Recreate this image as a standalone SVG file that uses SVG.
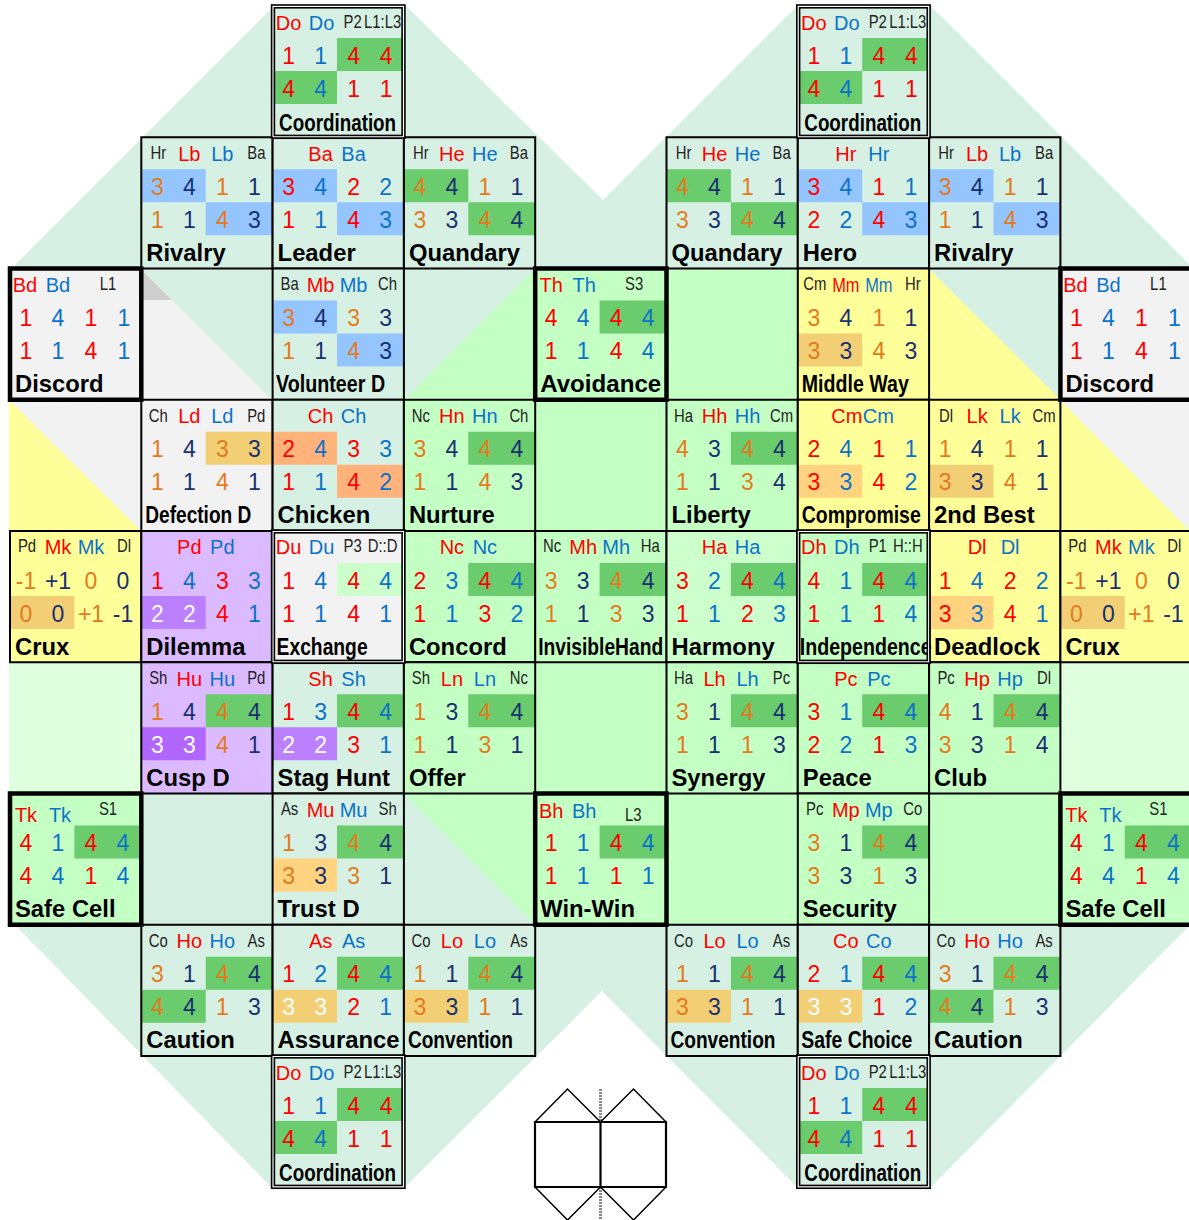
<svg xmlns="http://www.w3.org/2000/svg" width="1189" height="1220" viewBox="0 0 1189 1220">
<style>
text{font-family:"Liberation Sans",Arial,sans-serif}
.r,.u,.o,.n,.w{font-size:23px;text-anchor:middle}
.r,.lr{fill:#f00}.u,.lu{fill:#0b72c9}.o{fill:#e47a1b}.n{fill:#17306f}.w{fill:#fff}
.lr,.lu{font-size:20px;text-anchor:middle}
.cz{transform-box:fill-box;transform-origin:center;transform:scaleX(.82)}
.s{font-size:17.5px;fill:#222;text-anchor:middle;transform-box:fill-box;transform-origin:center;transform:scaleX(.85)}
.t{font-size:23.8px;font-weight:bold;fill:#000}
.c{width:131.3px;height:131.25px;stroke:none}
.b{width:131.3px;height:131.25px;fill:none;stroke:#000;stroke-width:2}
.k{width:131.3px;height:131.25px;fill:none;stroke:#000;stroke-width:4.5}
.d1{fill:none;stroke:#000;stroke-width:1.6}
.d2{fill:none;stroke:#fff;stroke-width:1.4}
.h{width:66.9px;height:33px}
.h[x="0"]{width:64.4px}
.mi{fill:#d6f1e3}.gy{fill:#f2f2f2}.gn{fill:#c4ffc4}.lg{fill:#ccffcc}.ye{fill:#ffff99}.pu{fill:#dcbaff}
.hg{fill:#6bcc6e}.hb{fill:#94c5ff}.ho{fill:#f2cf75}.hf{fill:#ffd37f}.hc{fill:#ffb27a}.hp{fill:#bb80ff}.hq{fill:#b066ff}
.ln{fill:none;stroke:#000}
</style>
<g id="background">
<polygon class="mi" points="15,265 271,9 405,5 603,200 798,5 930,5 1190,265 1190,925 930,1188 798,1188 602,991 404,1188 272,1188 15,925"/>
<polygon class="gy" points="141,269 272,400 141,400"/>
<polygon fill="#cfcfcf" points="141,269 172,300 141,300"/>
<polygon class="gy" points="9,400 141,400 141,531"/>
<polygon class="ye" points="9,400 141,531 9,531"/>
<polygon class="gn" points="404,400 535,269 535,400"/>
<rect class="gn" x="535" y="269" width="263" height="131"/>
<rect class="gn" x="404" y="400" width="394" height="394"/>
<polygon class="gn" points="404,794 535,794 535,925"/>
<rect class="gn" x="535" y="794" width="526" height="131"/>
<polygon class="ye" points="929,269 1061,400 929,400"/>
<polygon class="gy" points="1060,400 1189,400 1189,531"/>
<polygon class="ye" points="1060,400 1189,530 1060,531"/>
<rect fill="#dfffdf" x="9" y="662" width="132" height="132"/>
<rect fill="#dfffdf" x="1060" y="662" width="129" height="132"/>
</g>

<g id="rivalry-l" transform="translate(141.3 137.25)"><rect class="c mi"/><rect class="h hb" x="0" y="32"/><rect class="h hb" x="64.4" y="65"/>
<text class="s" x="17" y="22">Hr</text><text class="lr" x="48" y="23.5">Lb</text><text class="lu" x="81" y="23.5">Lb</text><text class="s" x="115" y="22">Ba</text>
<text class="o" x="16" y="57.5">3</text><text class="n" x="48" y="57.5">4</text><text class="o" x="81" y="57.5">1</text><text class="n" x="113" y="57.5">1</text>
<text class="o" x="16" y="90.5">1</text><text class="n" x="48" y="90.5">1</text><text class="o" x="81" y="90.5">4</text><text class="n" x="113" y="90.5">3</text>
<text class="t" x="5" y="123.5">Rivalry</text><rect class="b"/></g>

<g id="leader" transform="translate(272.6 137.25)"><rect class="c mi"/><rect class="h hb" x="0" y="32"/><rect class="h hb" x="64.4" y="65"/>
<text class="lr" x="48" y="23.5">Ba</text><text class="lu" x="81" y="23.5">Ba</text>
<text class="r" x="16" y="57.5">3</text><text class="u" x="48" y="57.5">4</text><text class="r" x="81" y="57.5">2</text><text class="u" x="113" y="57.5">2</text>
<text class="r" x="16" y="90.5">1</text><text class="u" x="48" y="90.5">1</text><text class="r" x="81" y="90.5">4</text><text class="u" x="113" y="90.5">3</text>
<text class="t" x="5" y="123.5">Leader</text><rect class="b"/></g>

<g id="quandary-l" transform="translate(403.9 137.25)"><rect class="c mi"/><rect class="h hg" x="0" y="32"/><rect class="h hg" x="64.4" y="65"/>
<text class="s" x="17" y="22">Hr</text><text class="lr" x="48" y="23.5">He</text><text class="lu" x="81" y="23.5">He</text><text class="s" x="115" y="22">Ba</text>
<text class="o" x="16" y="57.5">4</text><text class="n" x="48" y="57.5">4</text><text class="o" x="81" y="57.5">1</text><text class="n" x="113" y="57.5">1</text>
<text class="o" x="16" y="90.5">3</text><text class="n" x="48" y="90.5">3</text><text class="o" x="81" y="90.5">4</text><text class="n" x="113" y="90.5">4</text>
<text class="t" x="5" y="123.5">Quandary</text><rect class="b"/></g>

<g id="quandary-r" transform="translate(666.5 137.25)"><rect class="c mi"/><rect class="h hg" x="0" y="32"/><rect class="h hg" x="64.4" y="65"/>
<text class="s" x="17" y="22">Hr</text><text class="lr" x="48" y="23.5">He</text><text class="lu" x="81" y="23.5">He</text><text class="s" x="115" y="22">Ba</text>
<text class="o" x="16" y="57.5">4</text><text class="n" x="48" y="57.5">4</text><text class="o" x="81" y="57.5">1</text><text class="n" x="113" y="57.5">1</text>
<text class="o" x="16" y="90.5">3</text><text class="n" x="48" y="90.5">3</text><text class="o" x="81" y="90.5">4</text><text class="n" x="113" y="90.5">4</text>
<text class="t" x="5" y="123.5">Quandary</text><rect class="b"/></g>

<g id="hero" transform="translate(797.8 137.25)"><rect class="c mi"/><rect class="h hb" x="0" y="32"/><rect class="h hb" x="64.4" y="65"/>
<text class="lr" x="48" y="23.5">Hr</text><text class="lu" x="81" y="23.5">Hr</text>
<text class="r" x="16" y="57.5">3</text><text class="u" x="48" y="57.5">4</text><text class="r" x="81" y="57.5">1</text><text class="u" x="113" y="57.5">1</text>
<text class="r" x="16" y="90.5">2</text><text class="u" x="48" y="90.5">2</text><text class="r" x="81" y="90.5">4</text><text class="u" x="113" y="90.5">3</text>
<text class="t" x="5" y="123.5">Hero</text><rect class="b"/></g>

<g id="rivalry-r" transform="translate(929.1 137.25)"><rect class="c mi"/><rect class="h hb" x="0" y="32"/><rect class="h hb" x="64.4" y="65"/>
<text class="s" x="17" y="22">Hr</text><text class="lr" x="48" y="23.5">Lb</text><text class="lu" x="81" y="23.5">Lb</text><text class="s" x="115" y="22">Ba</text>
<text class="o" x="16" y="57.5">3</text><text class="n" x="48" y="57.5">4</text><text class="o" x="81" y="57.5">1</text><text class="n" x="113" y="57.5">1</text>
<text class="o" x="16" y="90.5">1</text><text class="n" x="48" y="90.5">1</text><text class="o" x="81" y="90.5">4</text><text class="n" x="113" y="90.5">3</text>
<text class="t" x="5" y="123.5">Rivalry</text><rect class="b"/></g>

<g id="volunteer-d" transform="translate(272.6 268.5)"><rect class="c mi"/><rect class="h hb" x="0" y="32"/><rect class="h hb" x="64.4" y="65"/>
<text class="s" x="17" y="22">Ba</text><text class="lr" x="48" y="23.5">Mb</text><text class="lu" x="81" y="23.5">Mb</text><text class="s" x="115" y="22">Ch</text>
<text class="o" x="16" y="57.5">3</text><text class="n" x="48" y="57.5">4</text><text class="o" x="81" y="57.5">3</text><text class="n" x="113" y="57.5">3</text>
<text class="o" x="16" y="90.5">1</text><text class="n" x="48" y="90.5">1</text><text class="o" x="81" y="90.5">4</text><text class="n" x="113" y="90.5">3</text>
<text class="t" x="3.5" y="123.5" textLength="109" lengthAdjust="spacingAndGlyphs">Volunteer D</text><rect class="b"/></g>

<g id="middle-way" transform="translate(797.8 268.5)"><rect class="c ye"/><rect class="h ho" x="0" y="65"/>
<text class="s" x="17" y="22">Cm</text><text class="lr cz" x="48" y="23.5">Mm</text><text class="lu cz" x="81" y="23.5">Mm</text><text class="s" x="115" y="22">Hr</text>
<text class="o" x="16" y="57.5">3</text><text class="n" x="48" y="57.5">4</text><text class="o" x="81" y="57.5">1</text><text class="n" x="113" y="57.5">1</text>
<text class="o" x="16" y="90.5">3</text><text class="n" x="48" y="90.5">3</text><text class="o" x="81" y="90.5">4</text><text class="n" x="113" y="90.5">3</text>
<text class="t" x="4" y="123.5" textLength="107" lengthAdjust="spacingAndGlyphs">Middle Way</text><rect class="b"/></g>

<g id="defection-d" transform="translate(141.3 399.75)"><rect class="c gy"/><rect class="h ho" x="64.4" y="32"/>
<text class="s" x="17" y="22">Ch</text><text class="lr" x="48" y="23.5">Ld</text><text class="lu" x="81" y="23.5">Ld</text><text class="s" x="115" y="22">Pd</text>
<text class="o" x="16" y="57.5">1</text><text class="n" x="48" y="57.5">4</text><text class="o" x="81" y="57.5">3</text><text class="n" x="113" y="57.5">3</text>
<text class="o" x="16" y="90.5">1</text><text class="n" x="48" y="90.5">1</text><text class="o" x="81" y="90.5">4</text><text class="n" x="113" y="90.5">1</text>
<text class="t" x="4" y="123.5" textLength="106" lengthAdjust="spacingAndGlyphs">Defection D</text><rect class="b"/></g>

<g id="chicken" transform="translate(272.6 399.75)"><rect class="c mi"/><rect class="h hc" x="0" y="32"/><rect class="h hc" x="64.4" y="65"/>
<text class="lr" x="48" y="23.5">Ch</text><text class="lu" x="81" y="23.5">Ch</text>
<text class="r" x="16" y="57.5">2</text><text class="u" x="48" y="57.5">4</text><text class="r" x="81" y="57.5">3</text><text class="u" x="113" y="57.5">3</text>
<text class="r" x="16" y="90.5">1</text><text class="u" x="48" y="90.5">1</text><text class="r" x="81" y="90.5">4</text><text class="u" x="113" y="90.5">2</text>
<text class="t" x="5" y="123.5">Chicken</text><rect class="b"/></g>

<g id="nurture" transform="translate(403.9 399.75)"><rect class="c gn"/><rect class="h hg" x="64.4" y="32"/>
<text class="s" x="17" y="22">Nc</text><text class="lr" x="48" y="23.5">Hn</text><text class="lu" x="81" y="23.5">Hn</text><text class="s" x="115" y="22">Ch</text>
<text class="o" x="16" y="57.5">3</text><text class="n" x="48" y="57.5">4</text><text class="o" x="81" y="57.5">4</text><text class="n" x="113" y="57.5">4</text>
<text class="o" x="16" y="90.5">1</text><text class="n" x="48" y="90.5">1</text><text class="o" x="81" y="90.5">4</text><text class="n" x="113" y="90.5">3</text>
<text class="t" x="5" y="123.5">Nurture</text><rect class="b"/></g>

<g id="liberty" transform="translate(666.5 399.75)"><rect class="c gn"/><rect class="h hg" x="64.4" y="32"/>
<text class="s" x="17" y="22">Ha</text><text class="lr" x="48" y="23.5">Hh</text><text class="lu" x="81" y="23.5">Hh</text><text class="s" x="115" y="22">Cm</text>
<text class="o" x="16" y="57.5">4</text><text class="n" x="48" y="57.5">3</text><text class="o" x="81" y="57.5">4</text><text class="n" x="113" y="57.5">4</text>
<text class="o" x="16" y="90.5">1</text><text class="n" x="48" y="90.5">1</text><text class="o" x="81" y="90.5">3</text><text class="n" x="113" y="90.5">4</text>
<text class="t" x="5" y="123.5">Liberty</text><rect class="b"/></g>

<g id="compromise" transform="translate(797.8 399.75)"><rect class="c ye"/><rect class="h hf" x="0" y="65"/>
<text class="lr" x="49" y="23.5">Cm</text><text class="lu" x="80.5" y="23.5">Cm</text>
<text class="r" x="16" y="57.5">2</text><text class="u" x="48" y="57.5">4</text><text class="r" x="81" y="57.5">1</text><text class="u" x="113" y="57.5">1</text>
<text class="r" x="16" y="90.5">3</text><text class="u" x="48" y="90.5">3</text><text class="r" x="81" y="90.5">4</text><text class="u" x="113" y="90.5">2</text>
<text class="t" transform="translate(4 123.5) scale(.818 1)">Compromise</text><rect class="b"/></g>

<g id="second-best" transform="translate(929.1 399.75)"><rect class="c ye"/><rect class="h ho" x="0" y="65"/>
<text class="s" x="17" y="22">Dl</text><text class="lr" x="48" y="23.5">Lk</text><text class="lu" x="81" y="23.5">Lk</text><text class="s" x="115" y="22">Cm</text>
<text class="o" x="16" y="57.5">1</text><text class="n" x="48" y="57.5">4</text><text class="o" x="81" y="57.5">1</text><text class="n" x="113" y="57.5">1</text>
<text class="o" x="16" y="90.5">3</text><text class="n" x="48" y="90.5">3</text><text class="o" x="81" y="90.5">4</text><text class="n" x="113" y="90.5">1</text>
<text class="t" x="5" y="123.5">2nd Best</text><rect class="b"/></g>

<g id="crux-l" transform="translate(10 531)"><rect class="c ye"/><rect class="h ho" x="0" y="65"/>
<text class="s" x="17" y="21.5">Pd</text><text class="lr" x="48" y="22.5">Mk</text><text class="lu" x="81" y="22.5">Mk</text><text class="s" x="114" y="21.5">Dl</text>
<text class="o" x="16" y="57.5">-1</text><text class="n" x="48" y="57.5">+1</text><text class="o" x="81" y="57.5">0</text><text class="n" x="113" y="57.5">0</text>
<text class="o" x="16" y="90.5">0</text><text class="n" x="48" y="90.5">0</text><text class="o" x="81" y="90.5">+1</text><text class="n" x="113" y="90.5">-1</text>
<text class="t" x="5" y="123.5">Crux</text><rect class="b"/></g>

<g id="dilemma" transform="translate(141.3 531)"><rect class="c pu"/><rect class="h hp" x="0" y="65"/>
<text class="lr" x="48" y="22.5">Pd</text><text class="lu" x="81" y="22.5">Pd</text>
<text class="r" x="16" y="57.5">1</text><text class="u" x="48" y="57.5">4</text><text class="r" x="81" y="57.5">3</text><text class="u" x="113" y="57.5">3</text>
<text class="w" x="16" y="90.5">2</text><text class="w" x="48" y="90.5">2</text><text class="r" x="81" y="90.5">4</text><text class="u" x="113" y="90.5">1</text>
<text class="t" x="5" y="123.5">Dilemma</text><rect class="b"/></g>

<g id="concord" transform="translate(403.9 531)"><rect class="c gn"/><rect class="h hg" x="64.4" y="32"/>
<text class="lr" x="48" y="22.5">Nc</text><text class="lu" x="81" y="22.5">Nc</text>
<text class="r" x="16" y="57.5">2</text><text class="u" x="48" y="57.5">3</text><text class="r" x="81" y="57.5">4</text><text class="u" x="113" y="57.5">4</text>
<text class="r" x="16" y="90.5">1</text><text class="u" x="48" y="90.5">1</text><text class="r" x="81" y="90.5">3</text><text class="u" x="113" y="90.5">2</text>
<text class="t" x="5" y="123.5">Concord</text><rect class="b"/></g>

<g id="invisible-hand" transform="translate(535.2 531)"><rect class="c gn"/><rect class="h hg" x="64.4" y="32"/>
<text class="s" x="17" y="21.5">Nc</text><text class="lr" x="48" y="22.5">Mh</text><text class="lu" x="81" y="22.5">Mh</text><text class="s" x="115" y="21.5">Ha</text>
<text class="o" x="16" y="57.5">3</text><text class="n" x="48" y="57.5">3</text><text class="o" x="81" y="57.5">4</text><text class="n" x="113" y="57.5">4</text>
<text class="o" x="16" y="90.5">1</text><text class="n" x="48" y="90.5">1</text><text class="o" x="81" y="90.5">3</text><text class="n" x="113" y="90.5">3</text>
<text class="t" transform="translate(3 123.5) scale(.808 1)">InvisibleHand</text><rect class="b"/></g>

<g id="harmony" transform="translate(666.5 531)"><rect class="c lg"/><rect class="h hg" x="64.4" y="32"/>
<text class="lr" x="48" y="22.5">Ha</text><text class="lu" x="81" y="22.5">Ha</text>
<text class="r" x="16" y="57.5">3</text><text class="u" x="48" y="57.5">2</text><text class="r" x="81" y="57.5">4</text><text class="u" x="113" y="57.5">4</text>
<text class="r" x="16" y="90.5">1</text><text class="u" x="48" y="90.5">1</text><text class="r" x="81" y="90.5">2</text><text class="u" x="113" y="90.5">3</text>
<text class="t" x="5" y="123.5">Harmony</text><rect class="b"/></g>

<g id="deadlock" transform="translate(929.1 531)"><rect class="c ye"/><rect class="h hf" x="0" y="65"/>
<text class="lr" x="48" y="22.5">Dl</text><text class="lu" x="81" y="22.5">Dl</text>
<text class="r" x="16" y="57.5">1</text><text class="u" x="48" y="57.5">4</text><text class="r" x="81" y="57.5">2</text><text class="u" x="113" y="57.5">2</text>
<text class="r" x="16" y="90.5">3</text><text class="u" x="48" y="90.5">3</text><text class="r" x="81" y="90.5">4</text><text class="u" x="113" y="90.5">1</text>
<text class="t" x="5" y="123.5">Deadlock</text><rect class="b"/></g>

<g id="crux-r" transform="translate(1060.4 531)"><rect class="c ye"/><rect class="h ho" x="0" y="65"/>
<text class="s" x="17" y="21.5">Pd</text><text class="lr" x="48" y="22.5">Mk</text><text class="lu" x="81" y="22.5">Mk</text><text class="s" x="114" y="21.5">Dl</text>
<text class="o" x="16" y="57.5">-1</text><text class="n" x="48" y="57.5">+1</text><text class="o" x="81" y="57.5">0</text><text class="n" x="113" y="57.5">0</text>
<text class="o" x="16" y="90.5">0</text><text class="n" x="48" y="90.5">0</text><text class="o" x="81" y="90.5">+1</text><text class="n" x="113" y="90.5">-1</text>
<text class="t" x="5" y="123.5">Crux</text><rect class="b"/></g>

<g id="cusp-d" transform="translate(141.3 662.25)"><rect class="c pu"/><rect class="h hg" x="64.4" y="32"/><rect class="h hq" x="0" y="65"/>
<text class="s" x="17" y="22">Sh</text><text class="lr" x="48" y="23.5">Hu</text><text class="lu" x="81" y="23.5">Hu</text><text class="s" x="115" y="22">Pd</text>
<text class="o" x="16" y="57.5">1</text><text class="n" x="48" y="57.5">4</text><text class="o" x="81" y="57.5">4</text><text class="n" x="113" y="57.5">4</text>
<text class="w" x="16" y="90.5">3</text><text class="w" x="48" y="90.5">3</text><text class="o" x="81" y="90.5">4</text><text class="n" x="113" y="90.5">1</text>
<text class="t" x="5" y="123.5">Cusp D</text><rect class="b"/></g>

<g id="stag-hunt" transform="translate(272.6 662.25)"><rect class="c mi"/><rect class="h hg" x="64.4" y="32"/><rect class="h hp" x="0" y="65"/>
<text class="lr" x="48" y="23.5">Sh</text><text class="lu" x="81" y="23.5">Sh</text>
<text class="r" x="16" y="57.5">1</text><text class="u" x="48" y="57.5">3</text><text class="r" x="81" y="57.5">4</text><text class="u" x="113" y="57.5">4</text>
<text class="w" x="16" y="90.5">2</text><text class="w" x="48" y="90.5">2</text><text class="r" x="81" y="90.5">3</text><text class="u" x="113" y="90.5">1</text>
<text class="t" x="5" y="123.5">Stag Hunt</text><rect class="b"/></g>

<g id="offer" transform="translate(403.9 662.25)"><rect class="c gn"/><rect class="h hg" x="64.4" y="32"/>
<text class="s" x="17" y="22">Sh</text><text class="lr" x="48" y="23.5">Ln</text><text class="lu" x="81" y="23.5">Ln</text><text class="s" x="115" y="22">Nc</text>
<text class="o" x="16" y="57.5">1</text><text class="n" x="48" y="57.5">3</text><text class="o" x="81" y="57.5">4</text><text class="n" x="113" y="57.5">4</text>
<text class="o" x="16" y="90.5">1</text><text class="n" x="48" y="90.5">1</text><text class="o" x="81" y="90.5">3</text><text class="n" x="113" y="90.5">1</text>
<text class="t" x="5" y="123.5">Offer</text><rect class="b"/></g>

<g id="synergy" transform="translate(666.5 662.25)"><rect class="c gn"/><rect class="h hg" x="64.4" y="32"/>
<text class="s" x="17" y="22">Ha</text><text class="lr" x="48" y="23.5">Lh</text><text class="lu" x="81" y="23.5">Lh</text><text class="s" x="115" y="22">Pc</text>
<text class="o" x="16" y="57.5">3</text><text class="n" x="48" y="57.5">1</text><text class="o" x="81" y="57.5">4</text><text class="n" x="113" y="57.5">4</text>
<text class="o" x="16" y="90.5">1</text><text class="n" x="48" y="90.5">1</text><text class="o" x="81" y="90.5">1</text><text class="n" x="113" y="90.5">3</text>
<text class="t" x="5" y="123.5">Synergy</text><rect class="b"/></g>

<g id="peace" transform="translate(797.8 662.25)"><rect class="c gn"/><rect class="h hg" x="64.4" y="32"/>
<text class="lr" x="48" y="23.5">Pc</text><text class="lu" x="81" y="23.5">Pc</text>
<text class="r" x="16" y="57.5">3</text><text class="u" x="48" y="57.5">1</text><text class="r" x="81" y="57.5">4</text><text class="u" x="113" y="57.5">4</text>
<text class="r" x="16" y="90.5">2</text><text class="u" x="48" y="90.5">2</text><text class="r" x="81" y="90.5">1</text><text class="u" x="113" y="90.5">3</text>
<text class="t" x="5" y="123.5">Peace</text><rect class="b"/></g>

<g id="club" transform="translate(929.1 662.25)"><rect class="c gn"/><rect class="h hg" x="64.4" y="32"/>
<text class="s" x="17" y="22">Pc</text><text class="lr" x="48" y="23.5">Hp</text><text class="lu" x="81" y="23.5">Hp</text><text class="s" x="115" y="22">Dl</text>
<text class="o" x="16" y="57.5">4</text><text class="n" x="48" y="57.5">1</text><text class="o" x="81" y="57.5">4</text><text class="n" x="113" y="57.5">4</text>
<text class="o" x="16" y="90.5">3</text><text class="n" x="48" y="90.5">3</text><text class="o" x="81" y="90.5">1</text><text class="n" x="113" y="90.5">4</text>
<text class="t" x="5" y="123.5">Club</text><rect class="b"/></g>

<g id="trust-d" transform="translate(272.6 793.5)"><rect class="c mi"/><rect class="h hg" x="64.4" y="32"/><rect class="h hf" x="0" y="65"/>
<text class="s" x="17" y="22">As</text><text class="lr" x="48" y="23.5">Mu</text><text class="lu" x="81" y="23.5">Mu</text><text class="s" x="115" y="22">Sh</text>
<text class="o" x="16" y="57.5">1</text><text class="n" x="48" y="57.5">3</text><text class="o" x="81" y="57.5">4</text><text class="n" x="113" y="57.5">4</text>
<text class="o" x="16" y="90.5">3</text><text class="n" x="48" y="90.5">3</text><text class="o" x="81" y="90.5">3</text><text class="n" x="113" y="90.5">1</text>
<text class="t" x="5" y="123.5">Trust D</text><rect class="b"/></g>

<g id="security" transform="translate(797.8 793.5)"><rect class="c gn"/><rect class="h hg" x="64.4" y="32"/>
<text class="s" x="17" y="22">Pc</text><text class="lr" x="48" y="23.5">Mp</text><text class="lu" x="81" y="23.5">Mp</text><text class="s" x="115" y="22">Co</text>
<text class="o" x="16" y="57.5">3</text><text class="n" x="48" y="57.5">1</text><text class="o" x="81" y="57.5">4</text><text class="n" x="113" y="57.5">4</text>
<text class="o" x="16" y="90.5">3</text><text class="n" x="48" y="90.5">3</text><text class="o" x="81" y="90.5">1</text><text class="n" x="113" y="90.5">3</text>
<text class="t" x="5" y="123.5">Security</text><rect class="b"/></g>

<g id="caution-l" transform="translate(141.3 924.75)"><rect class="c mi"/><rect class="h hg" x="64.4" y="32"/><rect class="h hg" x="0" y="65"/>
<text class="s" x="17" y="22">Co</text><text class="lr" x="48" y="23.5">Ho</text><text class="lu" x="81" y="23.5">Ho</text><text class="s" x="115" y="22">As</text>
<text class="o" x="16" y="57.5">3</text><text class="n" x="48" y="57.5">1</text><text class="o" x="81" y="57.5">4</text><text class="n" x="113" y="57.5">4</text>
<text class="o" x="16" y="90.5">4</text><text class="n" x="48" y="90.5">4</text><text class="o" x="81" y="90.5">1</text><text class="n" x="113" y="90.5">3</text>
<text class="t" x="5" y="123.5">Caution</text><rect class="b"/></g>

<g id="assurance" transform="translate(272.6 924.75)"><rect class="c mi"/><rect class="h hg" x="64.4" y="32"/><rect class="h ho" x="0" y="65"/>
<text class="lr" x="48" y="23.5">As</text><text class="lu" x="81" y="23.5">As</text>
<text class="r" x="16" y="57.5">1</text><text class="u" x="48" y="57.5">2</text><text class="r" x="81" y="57.5">4</text><text class="u" x="113" y="57.5">4</text>
<text class="w" x="16" y="90.5">3</text><text class="w" x="48" y="90.5">3</text><text class="r" x="81" y="90.5">2</text><text class="u" x="113" y="90.5">1</text>
<text class="t" x="5" y="123.5" textLength="122" lengthAdjust="spacingAndGlyphs">Assurance</text><rect class="b"/></g>

<g id="convention-l" transform="translate(403.9 924.75)"><rect class="c mi"/><rect class="h hg" x="64.4" y="32"/><rect class="h ho" x="0" y="65"/>
<text class="s" x="17" y="22">Co</text><text class="lr" x="48" y="23.5">Lo</text><text class="lu" x="81" y="23.5">Lo</text><text class="s" x="115" y="22">As</text>
<text class="o" x="16" y="57.5">1</text><text class="n" x="48" y="57.5">1</text><text class="o" x="81" y="57.5">4</text><text class="n" x="113" y="57.5">4</text>
<text class="o" x="16" y="90.5">3</text><text class="n" x="48" y="90.5">3</text><text class="o" x="81" y="90.5">1</text><text class="n" x="113" y="90.5">1</text>
<text class="t" x="4" y="123.5" textLength="105" lengthAdjust="spacingAndGlyphs">Convention</text><rect class="b"/></g>

<g id="convention-r" transform="translate(666.5 924.75)"><rect class="c mi"/><rect class="h hg" x="64.4" y="32"/><rect class="h ho" x="0" y="65"/>
<text class="s" x="17" y="22">Co</text><text class="lr" x="48" y="23.5">Lo</text><text class="lu" x="81" y="23.5">Lo</text><text class="s" x="115" y="22">As</text>
<text class="o" x="16" y="57.5">1</text><text class="n" x="48" y="57.5">1</text><text class="o" x="81" y="57.5">4</text><text class="n" x="113" y="57.5">4</text>
<text class="o" x="16" y="90.5">3</text><text class="n" x="48" y="90.5">3</text><text class="o" x="81" y="90.5">1</text><text class="n" x="113" y="90.5">1</text>
<text class="t" x="4" y="123.5" textLength="105" lengthAdjust="spacingAndGlyphs">Convention</text><rect class="b"/></g>

<g id="safe-choice" transform="translate(797.8 924.75)"><rect class="c mi"/><rect class="h hg" x="64.4" y="32"/><rect class="h ho" x="0" y="65"/>
<text class="lr" x="48" y="23.5">Co</text><text class="lu" x="81" y="23.5">Co</text>
<text class="r" x="16" y="57.5">2</text><text class="u" x="48" y="57.5">1</text><text class="r" x="81" y="57.5">4</text><text class="u" x="113" y="57.5">4</text>
<text class="w" x="16" y="90.5">3</text><text class="w" x="48" y="90.5">3</text><text class="r" x="81" y="90.5">1</text><text class="u" x="113" y="90.5">2</text>
<text class="t" x="3.5" y="123.5" textLength="111" lengthAdjust="spacingAndGlyphs">Safe Choice</text><rect class="b"/></g>

<g id="caution-r" transform="translate(929.1 924.75)"><rect class="c mi"/><rect class="h hg" x="64.4" y="32"/><rect class="h hg" x="0" y="65"/>
<text class="s" x="17" y="22">Co</text><text class="lr" x="48" y="23.5">Ho</text><text class="lu" x="81" y="23.5">Ho</text><text class="s" x="115" y="22">As</text>
<text class="o" x="16" y="57.5">3</text><text class="n" x="48" y="57.5">1</text><text class="o" x="81" y="57.5">4</text><text class="n" x="113" y="57.5">4</text>
<text class="o" x="16" y="90.5">4</text><text class="n" x="48" y="90.5">4</text><text class="o" x="81" y="90.5">1</text><text class="n" x="113" y="90.5">3</text>
<text class="t" x="5" y="123.5">Caution</text><rect class="b"/></g>

<g id="discord-l" transform="translate(10 268.5)"><rect class="c gy"/>
<text class="lr" x="15" y="23.5">Bd</text><text class="lu" x="48" y="23.5">Bd</text><text class="s" x="98" y="22">L1</text>
<text class="r" x="16" y="57.5">1</text><text class="u" x="48" y="57.5">4</text><text class="r" x="81" y="57.5">1</text><text class="u" x="114" y="57.5">1</text>
<text class="r" x="16" y="90.5">1</text><text class="u" x="48" y="90.5">1</text><text class="r" x="81" y="90.5">4</text><text class="u" x="114" y="90.5">1</text>
<text class="t" x="5" y="123.5">Discord</text><rect class="k"/></g>

<g id="discord-r" transform="translate(1060.4 268.5)"><rect class="c gy"/>
<text class="lr" x="15" y="23.5">Bd</text><text class="lu" x="48" y="23.5">Bd</text><text class="s" x="98" y="22">L1</text>
<text class="r" x="16" y="57.5">1</text><text class="u" x="48" y="57.5">4</text><text class="r" x="81" y="57.5">1</text><text class="u" x="114" y="57.5">1</text>
<text class="r" x="16" y="90.5">1</text><text class="u" x="48" y="90.5">1</text><text class="r" x="81" y="90.5">4</text><text class="u" x="114" y="90.5">1</text>
<text class="t" x="5" y="123.5">Discord</text><rect class="k"/></g>

<g id="avoidance" transform="translate(535.2 268.5)"><rect class="c gn"/><rect class="h hg" x="64.4" y="32"/>
<text class="lr" x="16" y="23.5">Th</text><text class="lu" x="49" y="23.5">Th</text><text class="s" x="99" y="22">S3</text>
<text class="r" x="16" y="57.5">4</text><text class="u" x="48" y="57.5">4</text><text class="r" x="81" y="57.5">4</text><text class="u" x="113" y="57.5">4</text>
<text class="r" x="16" y="90.5">1</text><text class="u" x="48" y="90.5">1</text><text class="r" x="81" y="90.5">4</text><text class="u" x="113" y="90.5">4</text>
<text class="t" x="5" y="123.5" textLength="121" lengthAdjust="spacingAndGlyphs">Avoidance</text><rect class="k"/></g>

<g id="safe-cell-l" transform="translate(10 793.5)"><rect class="c gn"/><rect class="h hg" x="64.4" y="32"/>
<text class="lr" x="16" y="28">Tk</text><text class="lu" x="50" y="28">Tk</text><text class="s" x="98" y="22">S1</text>
<text class="r" x="16" y="57.5">4</text><text class="u" x="48" y="57.5">1</text><text class="r" x="81" y="57.5">4</text><text class="u" x="113" y="57.5">4</text>
<text class="r" x="16" y="90.5">4</text><text class="u" x="48" y="90.5">4</text><text class="r" x="81" y="90.5">1</text><text class="u" x="113" y="90.5">4</text>
<text class="t" x="5" y="123.5">Safe Cell</text><rect class="k"/></g>

<g id="safe-cell-r" transform="translate(1060.4 793.5)"><rect class="c gn"/><rect class="h hg" x="64.4" y="32"/>
<text class="lr" x="16" y="28">Tk</text><text class="lu" x="50" y="28">Tk</text><text class="s" x="98" y="22">S1</text>
<text class="r" x="16" y="57.5">4</text><text class="u" x="48" y="57.5">1</text><text class="r" x="81" y="57.5">4</text><text class="u" x="113" y="57.5">4</text>
<text class="r" x="16" y="90.5">4</text><text class="u" x="48" y="90.5">4</text><text class="r" x="81" y="90.5">1</text><text class="u" x="113" y="90.5">4</text>
<text class="t" x="5" y="123.5">Safe Cell</text><rect class="k"/></g>

<g id="win-win" transform="translate(535.2 793.5)"><rect class="c gn"/><rect class="h hg" x="64.4" y="32"/>
<text class="lr" x="16" y="24">Bh</text><text class="lu" x="49" y="24">Bh</text><text class="s" x="98" y="27.5">L3</text>
<text class="r" x="16" y="57.5">1</text><text class="u" x="48" y="57.5">1</text><text class="r" x="81" y="57.5">4</text><text class="u" x="113" y="57.5">4</text>
<text class="r" x="16" y="90.5">1</text><text class="u" x="48" y="90.5">1</text><text class="r" x="81" y="90.5">1</text><text class="u" x="113" y="90.5">1</text>
<text class="t" x="5" y="123.5">Win-Win</text><rect class="k"/></g>

<g id="exchange" transform="translate(272.6 531)"><rect class="c gy"/><rect class="h lg" x="64.4" y="32"/>
<text class="lr" x="16" y="22.5">Du</text><text class="lu" x="49" y="22.5">Du</text><text class="s" x="80" y="21.5">P3</text><text class="s" x="110" y="21.5">D::D</text>
<text class="r" x="16" y="57.5">1</text><text class="u" x="48" y="57.5">4</text><text class="r" x="81" y="57.5">4</text><text class="u" x="113" y="57.5">4</text>
<text class="r" x="16" y="90.5">1</text><text class="u" x="48" y="90.5">1</text><text class="r" x="81" y="90.5">4</text><text class="u" x="113" y="90.5">1</text>
<text class="t" x="4" y="123.5" textLength="91" lengthAdjust="spacingAndGlyphs">Exchange</text>
<rect class="d2" x="0.5" y="0.5" width="130.3" height="130.25"/><rect class="d1" x="-1" y="-1" width="133.3" height="133.25"/><rect class="d1" x="1.8" y="1.8" width="127.7" height="127.65"/></g>

<g id="independence" transform="translate(797.8 531)"><rect class="c gn"/><rect class="h hg" x="64.4" y="32"/>
<text class="lr" x="16" y="22.5">Dh</text><text class="lu" x="49" y="22.5">Dh</text><text class="s" x="80" y="21.5">P1</text><text class="s" x="110" y="21.5">H::H</text>
<text class="r" x="16" y="57.5">4</text><text class="u" x="48" y="57.5">1</text><text class="r" x="81" y="57.5">4</text><text class="u" x="113" y="57.5">4</text>
<text class="r" x="16" y="90.5">1</text><text class="u" x="48" y="90.5">1</text><text class="r" x="81" y="90.5">1</text><text class="u" x="113" y="90.5">4</text>
<text class="t" transform="translate(2 123.5) scale(.824 1)">Independence</text>
<rect class="d2" x="0.5" y="0.5" width="130.3" height="130.25"/><rect class="d1" x="-1" y="-1" width="133.3" height="133.25"/><rect class="d1" x="1.8" y="1.8" width="127.7" height="127.65"/></g>

<g id="coordination-tl" transform="translate(272.6 6)"><rect class="c mi"/><rect class="h hg" x="64.4" y="32"/><rect class="h hg" x="0" y="65"/>
<text class="lr" x="16" y="23.5">Do</text><text class="lu" x="49" y="23.5">Do</text><text class="s" x="80" y="22">P2</text><text class="s" x="110" y="22">L1:L3</text>
<text class="r" x="16" y="57.5">1</text><text class="u" x="48" y="57.5">1</text><text class="r" x="81" y="57.5">4</text><text class="r" x="113.5" y="57.5">4</text>
<text class="r" x="16" y="90.5">4</text><text class="u" x="48" y="90.5">4</text><text class="r" x="81" y="90.5">1</text><text class="r" x="113.5" y="90.5">1</text>
<text class="t" x="6.5" y="124.5" textLength="117" lengthAdjust="spacingAndGlyphs">Coordination</text>
<rect class="d2" x="0.5" y="0.5" width="130.3" height="130.25"/><rect class="d1" x="-1" y="-1" width="133.3" height="133.25"/><rect class="d1" x="1.8" y="1.8" width="127.7" height="127.65"/></g>

<g id="coordination-tr" transform="translate(797.8 6)"><rect class="c mi"/><rect class="h hg" x="64.4" y="32"/><rect class="h hg" x="0" y="65"/>
<text class="lr" x="16" y="23.5">Do</text><text class="lu" x="49" y="23.5">Do</text><text class="s" x="80" y="22">P2</text><text class="s" x="110" y="22">L1:L3</text>
<text class="r" x="16" y="57.5">1</text><text class="u" x="48" y="57.5">1</text><text class="r" x="81" y="57.5">4</text><text class="r" x="113.5" y="57.5">4</text>
<text class="r" x="16" y="90.5">4</text><text class="u" x="48" y="90.5">4</text><text class="r" x="81" y="90.5">1</text><text class="r" x="113.5" y="90.5">1</text>
<text class="t" x="6.5" y="124.5" textLength="117" lengthAdjust="spacingAndGlyphs">Coordination</text>
<rect class="d2" x="0.5" y="0.5" width="130.3" height="130.25"/><rect class="d1" x="-1" y="-1" width="133.3" height="133.25"/><rect class="d1" x="1.8" y="1.8" width="127.7" height="127.65"/></g>

<g id="coordination-bl" transform="translate(272.6 1056)"><rect class="c mi"/><rect class="h hg" x="64.4" y="32"/><rect class="h hg" x="0" y="65"/>
<text class="lr" x="16" y="23.5">Do</text><text class="lu" x="49" y="23.5">Do</text><text class="s" x="80" y="22">P2</text><text class="s" x="110" y="22">L1:L3</text>
<text class="r" x="16" y="57.5">1</text><text class="u" x="48" y="57.5">1</text><text class="r" x="81" y="57.5">4</text><text class="r" x="113.5" y="57.5">4</text>
<text class="r" x="16" y="90.5">4</text><text class="u" x="48" y="90.5">4</text><text class="r" x="81" y="90.5">1</text><text class="r" x="113.5" y="90.5">1</text>
<text class="t" x="6.5" y="124.5" textLength="117" lengthAdjust="spacingAndGlyphs">Coordination</text>
<rect class="d2" x="0.5" y="0.5" width="130.3" height="130.25"/><rect class="d1" x="-1" y="-1" width="133.3" height="133.25"/><rect class="d1" x="1.8" y="1.8" width="127.7" height="127.65"/></g>

<g id="coordination-br" transform="translate(797.8 1056)"><rect class="c mi"/><rect class="h hg" x="64.4" y="32"/><rect class="h hg" x="0" y="65"/>
<text class="lr" x="16" y="23.5">Do</text><text class="lu" x="49" y="23.5">Do</text><text class="s" x="80" y="22">P2</text><text class="s" x="110" y="22">L1:L3</text>
<text class="r" x="16" y="57.5">1</text><text class="u" x="48" y="57.5">1</text><text class="r" x="81" y="57.5">4</text><text class="r" x="113.5" y="57.5">4</text>
<text class="r" x="16" y="90.5">4</text><text class="u" x="48" y="90.5">4</text><text class="r" x="81" y="90.5">1</text><text class="r" x="113.5" y="90.5">1</text>
<text class="t" x="6.5" y="124.5" textLength="117" lengthAdjust="spacingAndGlyphs">Coordination</text>
<rect class="d2" x="0.5" y="0.5" width="130.3" height="130.25"/><rect class="d1" x="-1" y="-1" width="133.3" height="133.25"/><rect class="d1" x="1.8" y="1.8" width="127.7" height="127.65"/></g>

<g id="key">
<path d="M600.5 1089V1122M600.5 1187V1220" fill="none" stroke="#888" stroke-width="3" stroke-dasharray="2 1"/>
<path class="ln" stroke-width="1.5" d="M535 1122L567.5 1089L600.5 1122L633.5 1089L666 1122M535 1187L567.5 1220L600.5 1187L633.5 1220L666 1187"/>
<path class="ln" stroke-width="2.2" d="M535 1122H666V1187H535ZM600.5 1122V1187"/>
</g>
</svg>
